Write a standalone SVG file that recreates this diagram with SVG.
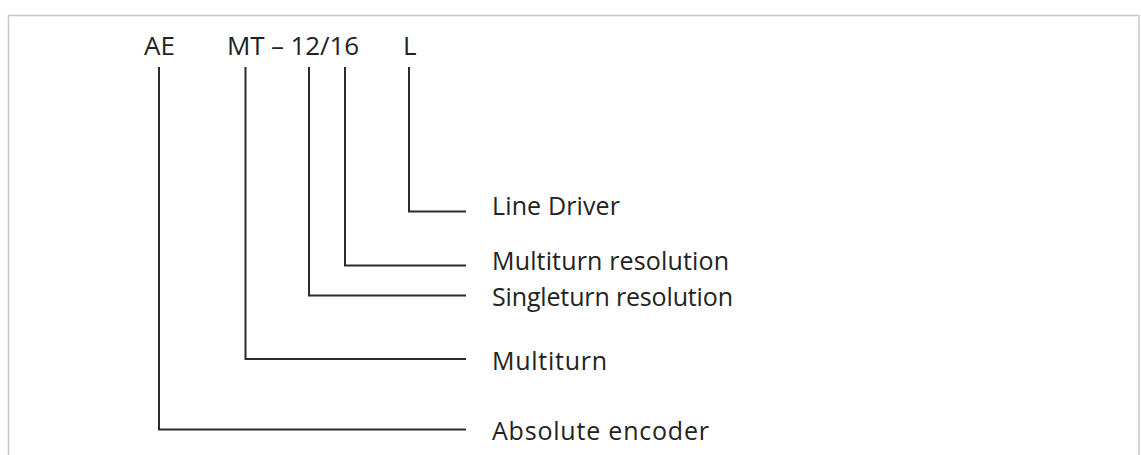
<svg xmlns="http://www.w3.org/2000/svg" width="1141" height="455" viewBox="0 0 1141 455">
<style>
.t{font-family:"Open Sans","Noto Sans",sans-serif;font-size:25px;fill:#222;}
.h{font-size:26px;}
.c{fill:none;stroke:#2b2b2b;stroke-width:2;}
.frame{fill:none;stroke:#c8c8c8;stroke-width:1.5;}
</style>
<rect width="1141" height="455" fill="#fff"/>
<path class="frame" d="M8.5,460 V15.5 H1139 V460"/>
<g id="code">
<text class="t h" x="144" y="55">AE</text>
<text class="t h" x="227" y="55" textLength="132" lengthAdjust="spacing">MT – 12/16</text>
<text class="t h" x="403" y="55">L</text>
</g>
<g id="connectors">
<path class="c" d="M409,67 V211.5 H466"/>
<path class="c" d="M345,67 V265.5 H466"/>
<path class="c" d="M309,67 V295.5 H466"/>
<path class="c" d="M245.5,67 V359 H466"/>
<path class="c" d="M159,67 V429.5 H466"/>
</g>
<g id="n-line-driver"><text class="t" x="492" y="215" textLength="128" lengthAdjust="spacing">Line Driver</text></g>
<g id="n-multiturn-resolution"><text class="t" x="492" y="270" textLength="237" lengthAdjust="spacing">Multiturn resolution</text></g>
<g id="n-singleturn-resolution"><text class="t" x="492" y="306" textLength="241" lengthAdjust="spacing">Singleturn resolution</text></g>
<g id="n-multiturn"><text class="t" x="492" y="370" textLength="115" lengthAdjust="spacing">Multiturn</text></g>
<g id="n-absolute-encoder"><text class="t" x="492" y="440" textLength="217" lengthAdjust="spacing">Absolute encoder</text></g>
</svg>
